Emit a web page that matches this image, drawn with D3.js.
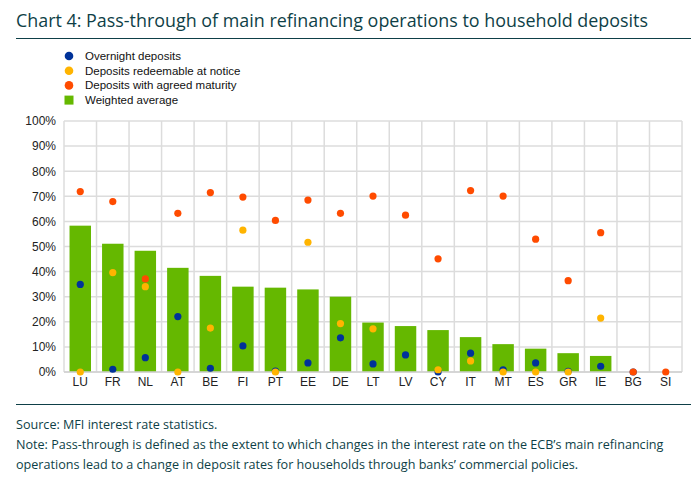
<!DOCTYPE html>
<html>
<head>
<meta charset="utf-8">
<script src="https://cdn.jsdelivr.net/npm/d3@7"></script>
<style>
html,body{margin:0;padding:0;background:#fff;}
svg{display:block;}
</style>
</head>
<body>
<svg id="chart" width="694" height="485"></svg>
<script>
const categories = ["LU","FR","NL","AT","BE","FI","PT","EE","DE","LT","LV","CY","IT","MT","ES","GR","IE","BG","SI"];
const weightedAverage = [58.3,51.1,48.3,41.5,38.3,34.0,33.6,32.9,30.0,19.7,18.3,16.7,13.9,11.1,9.3,7.5,6.4,0,0];
const overnight = [34.9,1.1,5.7,22.1,1.5,10.4,0.4,3.6,13.6,3.2,6.8,0,7.5,0.9,3.6,0.3,2.3,0,null];
const redeemable = [0,39.6,34.0,0,17.5,56.5,0,51.7,19.3,17.2,null,0.9,4.4,0,0,0,21.5,null,null];
const agreedMaturity = [71.9,67.9,37.1,63.2,71.5,69.7,60.4,68.5,63.2,70.1,62.5,45.1,72.3,70.1,52.9,36.4,55.5,0,0];
const yTicks = [0,10,20,30,40,50,60,70,80,90,100];
const legendLabels = ["Overnight deposits","Deposits redeemable at notice","Deposits with agreed maturity","Weighted average"];

(function(){
const colors = {blue:"#003299", yellow:"#ffb400", orange:"#ff4b00", green:"#65b800"};
const textDark = "#0e3f47";

const svg = d3.select("#chart");
const pLeft = 64, pRight = 682, pTop = 121, pBottom = 372;

// Title
svg.append("text").attr("x",16).attr("y",26.5)
  .attr("font-family","Open Sans").attr("font-size",18.5).attr("fill",textDark)
  .attr("textLength",632).attr("lengthAdjust","spacingAndGlyphs")
  .text("Chart 4: Pass-through of main refinancing operations to household deposits");
svg.append("line").attr("x1",16).attr("x2",691).attr("y1",38.5).attr("y2",38.5)
  .attr("stroke",textDark).attr("stroke-width",1.2);

// Legend
const legendItems = [
  {label:legendLabels[0], color:colors.blue, shape:"circle"},
  {label:legendLabels[1], color:colors.yellow, shape:"circle"},
  {label:legendLabels[2], color:colors.orange, shape:"circle"},
  {label:legendLabels[3], color:colors.green, shape:"rect"}
];
const lg = svg.append("g");
legendItems.forEach((d,i)=>{
  const cy = 56 + i*14.7;
  if(d.shape==="circle"){
    lg.append("circle").attr("cx",69).attr("cy",cy).attr("r",4.3).attr("fill",d.color);
  } else {
    lg.append("rect").attr("x",64.5).attr("y",cy-4.5).attr("width",9).attr("height",9).attr("fill",d.color);
  }
  lg.append("text").attr("x",85).attr("y",cy+4)
    .attr("font-family","Liberation Sans, Arial").attr("font-size",11.5).attr("fill","#111")
    .text(d.label);
});

// Scales
const x = d3.scaleBand().domain(categories).range([pLeft,pRight]).paddingInner(0.34).paddingOuter(0.17);
const y = d3.scaleLinear().domain([0,100]).range([pBottom,pTop]);

// Gridlines
const grid = svg.append("g");
yTicks.forEach(t=>{
  grid.append("line").attr("x1",pLeft).attr("x2",pRight).attr("y1",y(t)).attr("y2",y(t))
    .attr("stroke","#dcdcdc").attr("stroke-width",1.5);
});
const step = x.step();
for(let i=0;i<=categories.length;i++){
  const xp = pLeft + i*step;
  grid.append("line").attr("x1",xp).attr("x2",xp).attr("y1",pTop).attr("y2",pBottom)
    .attr("stroke","#dcdcdc").attr("stroke-width",1.5);
}

// Y axis labels
const yAxis = d3.axisLeft(y).tickValues(yTicks).tickFormat(d=>d+"%").tickSize(0).tickPadding(0);
const yg = svg.append("g").attr("transform",`translate(${pLeft-8},0)`).call(yAxis);
yg.select(".domain").remove();
yg.selectAll("text").attr("font-family","Liberation Sans, Arial").attr("font-size",12).attr("fill","#222");

// Bars
svg.append("g").selectAll("rect").data(categories).join("rect")
  .attr("x",d=>x(d)).attr("width",x.bandwidth())
  .attr("y",(d,i)=>y(weightedAverage[i]))
  .attr("height",(d,i)=>y(0)-y(weightedAverage[i]))
  .attr("fill",colors.green);

// Baseline
svg.append("line").attr("x1",pLeft).attr("x2",pRight).attr("y1",pBottom).attr("y2",pBottom)
  .attr("stroke","#d0d0d0").attr("stroke-width",1.5);

// X axis labels
const xAxis = d3.axisBottom(x).tickSize(0).tickPadding(0);
const xg = svg.append("g").attr("transform",`translate(0,${pBottom+5})`).call(xAxis);
xg.select(".domain").remove();
xg.selectAll("text").attr("font-family","Liberation Sans, Arial").attr("font-size",12).attr("fill","#222").attr("dy","0.71em");

// Dots
const r = 3.6;
function dots(values,color){
  svg.append("g").selectAll("circle")
    .data(categories.map((c,i)=>({c,v:values[i]})).filter(d=>d.v!==null))
    .join("circle")
    .attr("cx",d=>x(d.c)+x.bandwidth()/2).attr("cy",d=>y(d.v)).attr("r",r).attr("fill",color);
}
dots(overnight,colors.blue);
dots(redeemable,colors.yellow);
dots(agreedMaturity,colors.orange);

// Footer
svg.append("line").attr("x1",16).attr("x2",691).attr("y1",404.5).attr("y2",404.5)
  .attr("stroke",textDark).attr("stroke-width",1.2);
const foot = [
  {t:"Source: MFI interest rate statistics.", y:429},
  {t:"Note: Pass-through is defined as the extent to which changes in the interest rate on the ECB\u2019s main refinancing", y:449},
  {t:"operations lead to a change in deposit rates for households through banks\u2019 commercial policies.", y:469}
];
foot.forEach(f=>{
  svg.append("text").attr("x",16).attr("y",f.y)
    .attr("font-family","Open Sans").attr("font-size",12.6).attr("fill",textDark).text(f.t);
});
})();
</script>
</body>
</html>
